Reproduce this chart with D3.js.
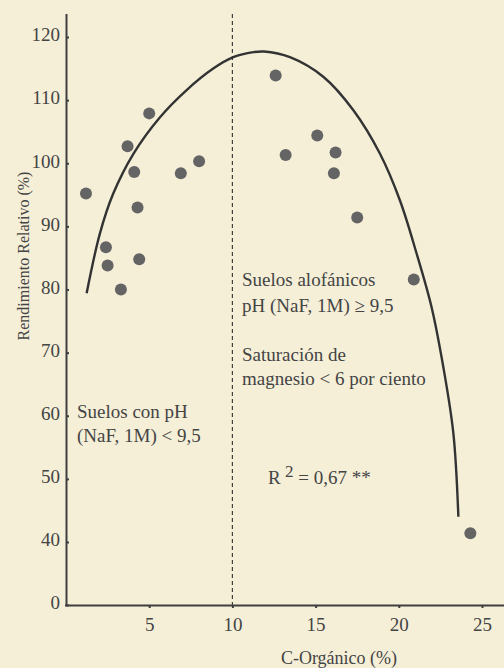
<!DOCTYPE html>
<html>
<head>
<meta charset="utf-8">
<script src="https://cdn.jsdelivr.net/npm/d3@7"></script>
<style>
  body { margin: 0; background: #f5efd8; }
  svg { display: block; }
  text { font-family: "Liberation Serif", "DejaVu Serif", serif; fill: #444; }
</style>
</head>
<body>
<svg id="chart" width="504" height="668"></svg>
<script>
// observations: C-Organico (%) vs Rendimiento Relativo (%)
const carbon = [1.2, 2.4, 2.5, 3.3, 3.7, 4.1, 4.3, 4.4, 5.0, 6.9, 8.0,
  12.6, 13.2, 15.1, 16.2, 16.1, 17.5, 20.9, 24.3];
const yieldRel = [95.2, 86.7, 83.8, 80.0, 102.7, 98.6, 93.0, 84.8, 107.9, 98.4, 100.3,
  113.9, 101.3, 104.4, 101.7, 98.4, 91.4, 81.6, 41.4];

// fitted curve
const fitX = [1.24, 2.04, 2.84, 4.05, 5.65, 7.25, 8.85, 10.05, 11.26, 11.9, 13.46,
  15.46, 17.27, 18.87, 20.07, 21.07, 21.97, 22.67, 23.28, 23.58];
const fitY = [79.4, 88.9, 95.2, 101.5, 107.3, 111.6, 115.0, 116.8, 117.6, 117.7, 116.8,
  113.7, 108.4, 101.5, 94.1, 85.7, 77.2, 67.8, 57.2, 44.0];

const xTicks = [5, 10, 15, 20, 25];
const yTicks = [0, 40, 50, 60, 70, 80, 90, 100, 110, 120];
const splitAt = 10;

const svg = d3.select("#chart");
const ink = "#3f3f3f";

const x = d3.scaleLinear().domain([0, 25]).range([66, 482]);
// broken axis: 0 sits one step below 40
const y = d3.scaleLinear().domain([0, 40, 120]).range([605, 542, 37]);

const xAxis = svg.append("g")
  .attr("transform", `translate(0,${y(0)})`)
  .call(d3.axisBottom(x).tickValues(xTicks).tickSize(3));
xAxis.select(".domain").attr("d", `M${x(0) - 1},0.5H504`);
xAxis.selectAll(".tick text").attr("y", 13);

const yAxis = svg.append("g")
  .attr("transform", `translate(${x(0)},0)`)
  .call(d3.axisRight(y).tickValues(yTicks).tickSize(3));
yAxis.select(".domain").attr("d", `M0.5,14V${y(0)}`);
yAxis.selectAll(".tick text").attr("x", -6).attr("text-anchor", "end").attr("dy", "0.2em");

svg.selectAll(".domain, .tick line").attr("stroke", ink).attr("stroke-width", 2);
svg.selectAll(".tick text").attr("font-size", 19).attr("fill", "#444")
  .attr("font-family", "Liberation Serif, serif");

// dividing line
svg.append("line")
  .attr("x1", x(splitAt)).attr("x2", x(splitAt))
  .attr("y1", 14).attr("y2", y(0))
  .attr("stroke", ink).attr("stroke-width", 1.2)
  .attr("stroke-dasharray", "4,3");

// regression curve
const line = d3.line()
  .x((d, i) => x(fitX[i]))
  .y((d, i) => y(fitY[i]))
  .curve(d3.curveCatmullRom);

svg.append("path")
  .attr("d", line(fitX))
  .attr("fill", "none")
  .attr("stroke", "#333")
  .attr("stroke-width", 2.4);

svg.selectAll("circle.pt")
  .data(carbon)
  .join("circle")
  .attr("class", "pt")
  .attr("cx", (d) => x(d))
  .attr("cy", (d, i) => y(yieldRel[i]))
  .attr("r", 6)
  .attr("fill", "#646464");

// annotations
const notes = [
  { x: 242, y: 286, t: "Suelos alofánicos" },
  { x: 242, y: 312, t: "pH (NaF, 1M) \u2265 9,5" },
  { x: 242, y: 361, t: "Saturación de" },
  { x: 242, y: 385, t: "magnesio < 6 por ciento" },
  { x: 77, y: 418, t: "Suelos con pH" },
  { x: 77, y: 442, t: "(NaF, 1M) < 9,5" },
];
svg.selectAll("text.note")
  .data(notes)
  .join("text")
  .attr("class", "note")
  .attr("x", (d) => d.x)
  .attr("y", (d) => d.y)
  .attr("font-size", 19)
  .text((d) => d.t);

const r2 = svg.append("text")
  .attr("x", 268).attr("y", 484)
  .attr("font-size", 19);
r2.append("tspan").text("R");
r2.append("tspan").attr("dy", -7).attr("font-size", 17).text(" 2");
r2.append("tspan").attr("dy", 7).text(" = 0,67 **");

svg.append("text")
  .attr("x", 339).attr("y", 664)
  .attr("text-anchor", "middle")
  .attr("font-size", 18)
  .text("C-Orgánico (%)");

svg.append("text")
  .attr("transform", "translate(29,256) rotate(-90)")
  .attr("text-anchor", "middle")
  .attr("font-size", 16)
  .text("Rendimiento Relativo (%)");
</script>
</body>
</html>
